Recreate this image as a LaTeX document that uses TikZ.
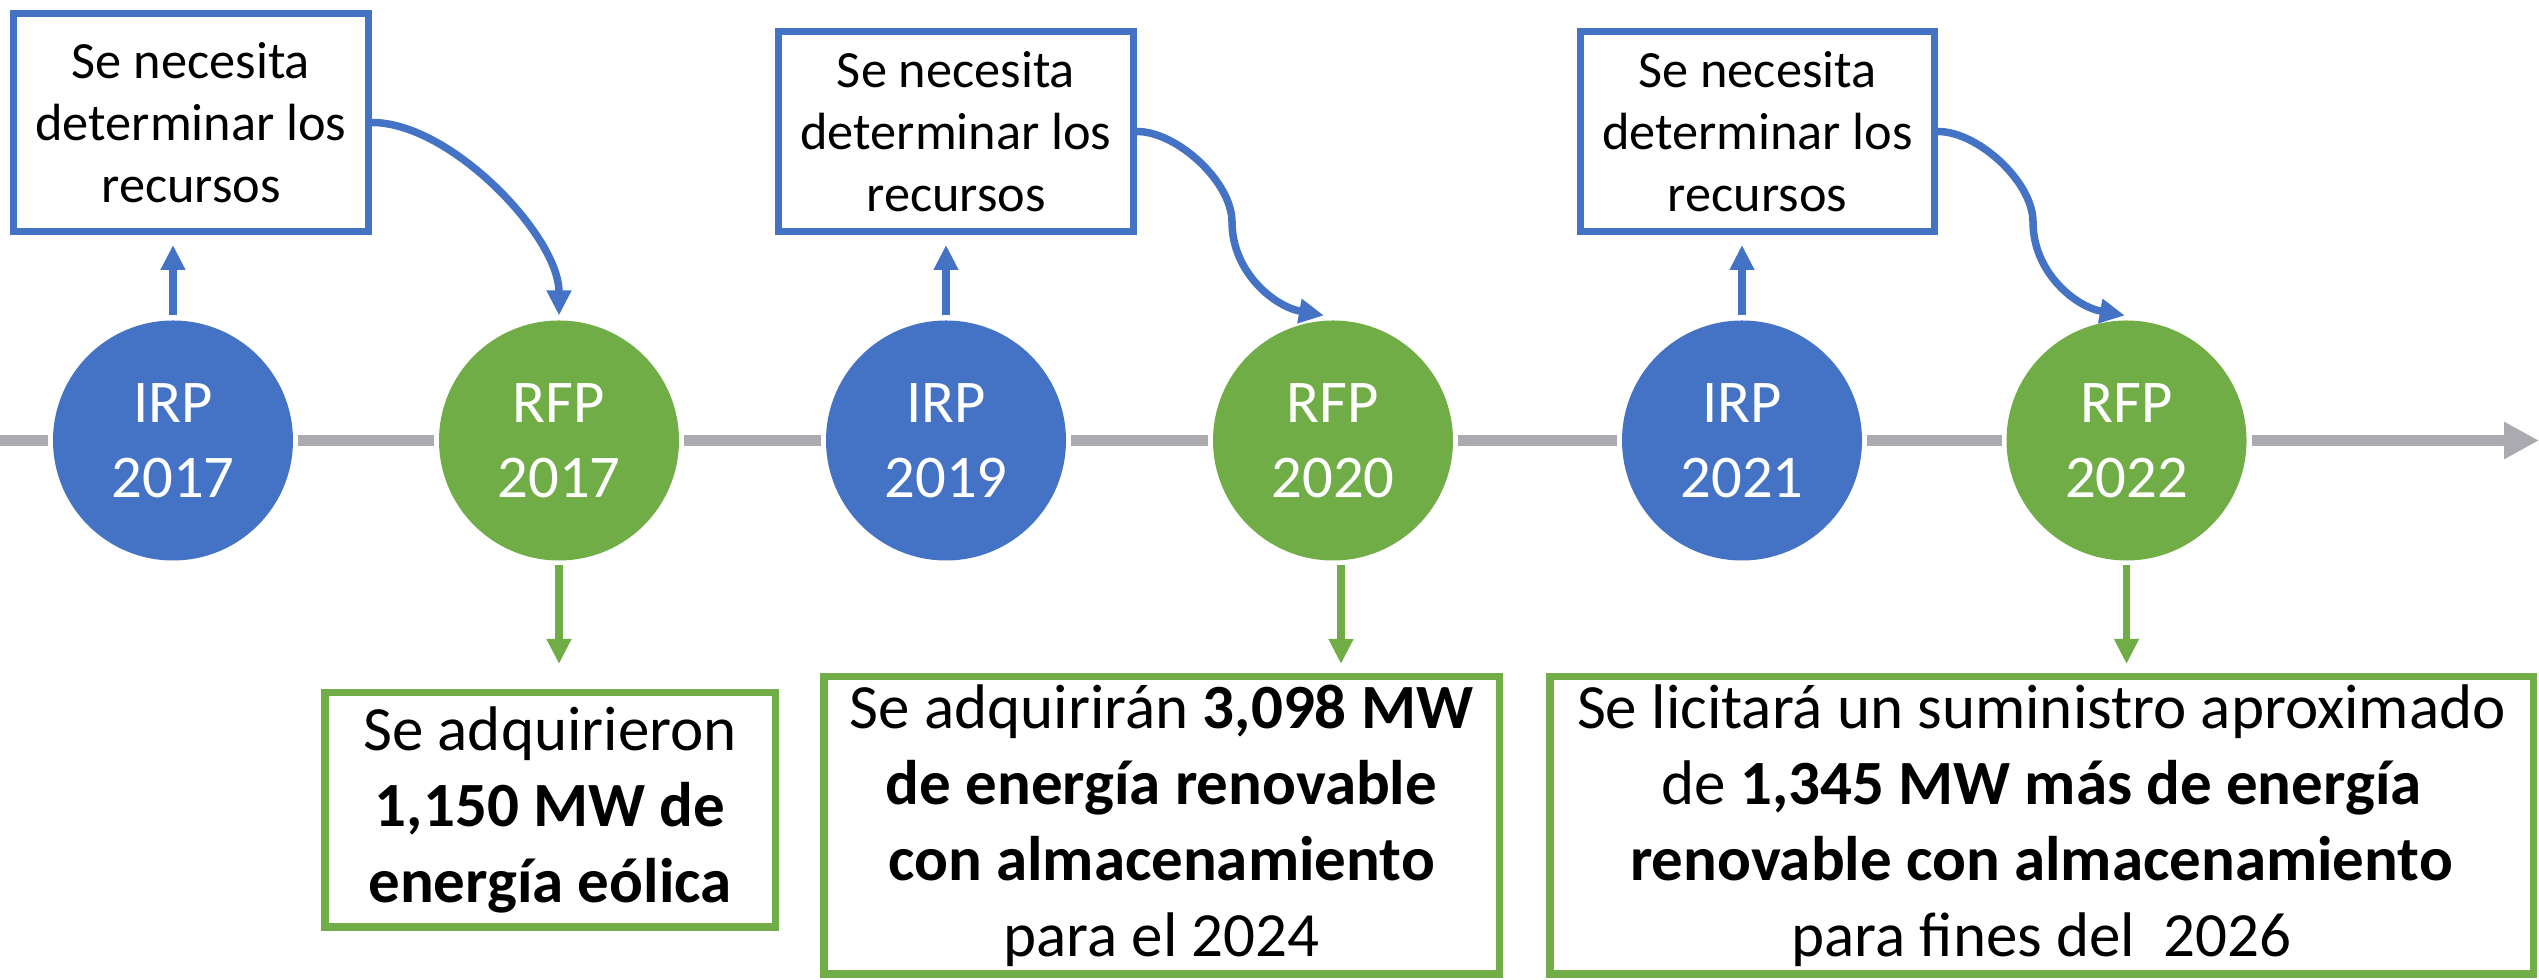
\documentclass[tikz,border=0pt]{standalone}
\usepackage{fontspec}
\setmainfont{Carlito}
\usetikzlibrary{arrows.meta}
\definecolor{cblue}{HTML}{4472C4}
\definecolor{cgreen}{HTML}{70AD47}
\definecolor{cgray}{RGB}{170,170,176}
\begin{document}
\begin{tikzpicture}[x=0.3pt,y=-0.3pt,
  milestone/.style={circle,minimum size=72pt,inner sep=0pt,outer sep=1.5pt,text=white,align=center,font=\fontsize{18.2}{22.5}\selectfont},
  irp/.style={milestone,fill=cblue},
  rfp/.style={milestone,fill=cgreen},
  topbox/.style={draw=cblue,line width=2.1pt,align=center,inner sep=0pt,minimum width=106.5pt,minimum height=60pt,font=\fontsize{15.7}{18.6}\selectfont},
  botbox/.style={draw=cgreen,line width=2.25pt,align=center,inner sep=0pt,font=\fontsize{18.9}{22.8}\selectfont},
  tl/.style={draw=cgray,line width=3.3pt},
  uparr/.style={draw=cblue,line width=2.25pt,-{Triangle[width=7pt,length=7.5pt]}},
  dnarr/.style={draw=cgreen,line width=2.25pt,-{Triangle[width=7pt,length=7.5pt]}},
]
\useasboundingbox (0,0) rectangle (2539,980);

% milestones
\node[irp] (i1) at (173,440.5) {IRP\\2017};
\node[rfp] (r1) at (559,440.5) {RFP\\2017};
\node[irp] (i2) at (946,440.5) {IRP\\2019};
\node[rfp] (r2) at (1333,440.5) {RFP\\2020};
\node[irp] (i3) at (1742,440.5) {IRP\\2021};
\node[rfp] (r3) at (2126.5,440.5) {RFP\\2022};

% timeline
\coordinate (start) at (0,440.5);
\coordinate (end) at (2539,440.5);
\draw[tl] (start) -- (i1);
\draw[tl] (i1) -- (r1);
\draw[tl] (r1) -- (i2);
\draw[tl] (i2) -- (r2);
\draw[tl] (r2) -- (i3);
\draw[tl] (i3) -- (r3);
\draw[tl,-{Triangle[width=10.5pt,length=10.5pt]}] (r3) -- (end);

% top boxes
\node[topbox,minimum height=65.4pt] (t1) at (191,122.5) {Se necesita\\determinar los\\recursos};
\node[topbox] (t2) at (956,131.5) {Se necesita\\determinar los\\recursos};
\node[topbox,minimum width=106.2pt] (t3) at (1757.5,131.5) {Se necesita\\determinar los\\recursos};

% bottom boxes
\node[botbox,minimum width=135.15pt,minimum height=70.35pt] (d1) at (550,810)
  {Se adquirieron\\\textbf{1,150 MW de}\\\textbf{energía eólica}};
\node[botbox,minimum width=202.65pt,minimum height=89.25pt] (d2) at (1161.5,825.5)
  {Se adquirirán \textbf{3,098 MW}\\\textbf{de energía renovable}\\\textbf{con almacenamiento}\\para el 2024};
\node[botbox,minimum width=295.05pt,minimum height=89.25pt] (d3) at (2041.5,825.5)
  {Se licitará un suministro aproximado\\de \textbf{1,345 MW más de energía}\\\textbf{renovable con almacenamiento}\\para fines del\ \ 2026};

% up arrows
\draw[uparr,shorten >=3pt] (i1.north) -- (i1.north |- t1.south);
\draw[uparr,shorten >=3pt] (i2.north) -- (i2.north |- t2.south);
\draw[uparr,shorten >=3pt] (i3.north) -- (i3.north |- t3.south);

% down arrows
\draw[dnarr,shorten >=7.5pt] (r1.south) -- (r1.south |- d1.north);
\draw[dnarr,shorten >=2.7pt] ([xshift=2.4pt]r2.south) -- ([xshift=2.4pt]r2.south |- d2.north);
\draw[dnarr,shorten >=2.7pt] (r3.south) -- (r3.south |- d3.north);

% curved arrows
\coordinate (m2) at (1232,222);
\coordinate (m3) at (2033,222);
\draw[uparr] (t1.east) .. controls +(79,0) and +(0,-79) .. (r1.north);
\draw[uparr] (t2.east) .. controls +(40,0) and +(0,-40) .. (m2) .. controls +(0,50) and +(-50,-9) .. ([xshift=-2.7pt]r2.north);
\draw[uparr] (t3.east) .. controls +(40,0) and +(0,-40) .. (m3) .. controls +(0,50) and +(-50,-9) .. ([xshift=-0.5pt]r3.north);
\end{tikzpicture}
\end{document}
